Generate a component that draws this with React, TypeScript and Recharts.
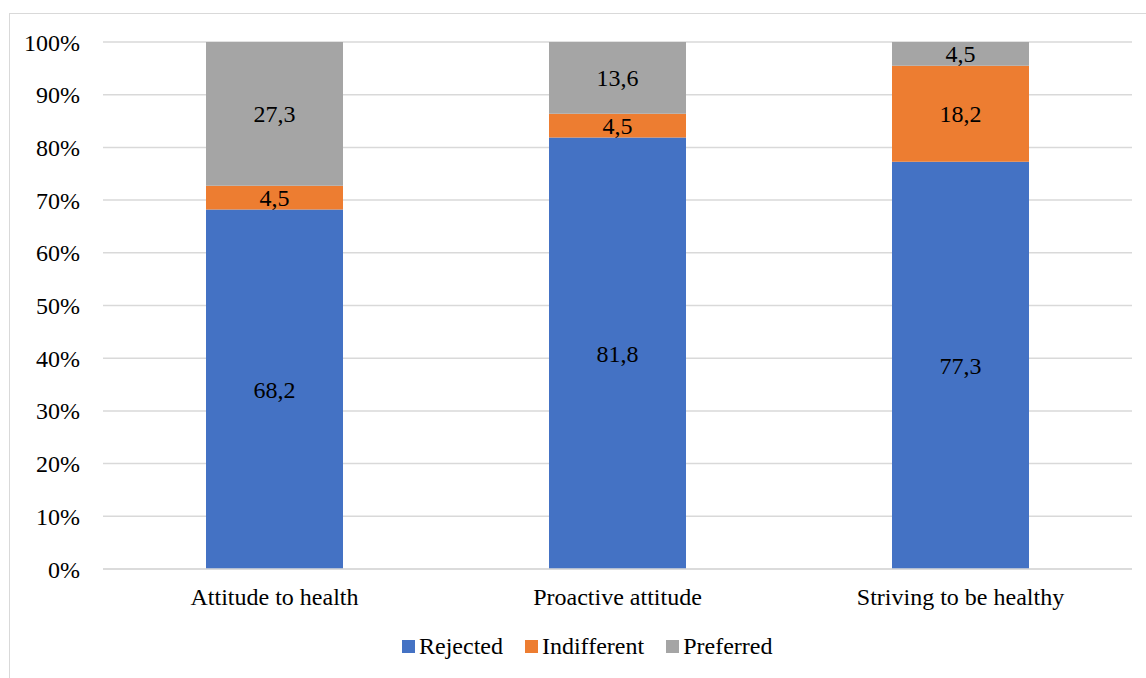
import { BarChart, Bar, XAxis, YAxis, CartesianGrid, LabelList } from "recharts";

const categories = ["Attitude to health", "Proactive attitude", "Striving to be healthy"];
const rejected = [68.2, 81.8, 77.3];
const indifferent = [4.5, 4.5, 18.2];
const preferred = [27.3, 13.6, 4.5];
const yTicks = [0, 0.1, 0.2, 0.3, 0.4, 0.5, 0.6, 0.7, 0.8, 0.9, 1];

const SERIES = [
  { key: "Rejected", color: "#4472C4" },
  { key: "Indifferent", color: "#ED7D31" },
  { key: "Preferred", color: "#A5A5A5" },
];

const FONT = "'Times New Roman', 'Liberation Serif', serif";
const FS = 24;

const chartData = categories.map((name, i) => ({
  name,
  Rejected: rejected[i],
  Indifferent: indifferent[i],
  Preferred: preferred[i],
}));

const fmt = (v: any) => String(v).replace(".", ",");

export default function App() {
  return (
    <div style={{ position: "fixed", left: 0, top: 0, width: 1146, height: 678, overflow: "hidden", background: "#fff", fontFamily: FONT }}>
      <div style={{ position: "absolute", left: 9, top: 13, width: 1200, height: 700, border: "1px solid #d9d9d9" }} />
      <BarChart
        width={1146}
        height={678}
        data={chartData}
        stackOffset="expand"
        margin={{ top: 42, right: 14, bottom: 0, left: 0 }}
        style={{ position: "absolute", left: 0, top: 0, fontFamily: FONT }}
      >
        <CartesianGrid vertical={false} stroke="#d9d9d9" strokeWidth={1.5} />
        <XAxis
          dataKey="name"
          height={109}
          axisLine={{ stroke: "#d9d9d9", strokeWidth: 1.5 }}
          tickLine={false}
          tickSize={0}
          tickMargin={19}
          tick={{ fill: "#000", fontSize: FS, fontFamily: FONT }}
        />
        <YAxis
          width={103}
          ticks={yTicks}
          domain={[0, 1]}
          axisLine={false}
          tickLine={false}
          tickSize={0}
          tickMargin={23}
          tickFormatter={(v) => `${Math.round(v * 100)}%`}
          tick={{ fill: "#000", fontSize: FS, fontFamily: FONT }}
        />
        {SERIES.map((s) => (
          <Bar key={s.key} dataKey={s.key} stackId="a" fill={s.color} barSize={137} isAnimationActive={false}>
            <LabelList
              dataKey={s.key}
              position="center"
              formatter={fmt}
              fill="#000"
              fontSize={FS}
              fontFamily={FONT}
            />
          </Bar>
        ))}
      </BarChart>
      {/* legend as plain html so it doesn't eat plot height */}
      <div style={{ position: "absolute", left: 402, top: 633, display: "flex", alignItems: "center", fontFamily: FONT, fontSize: FS, color: "#000", whiteSpace: "nowrap" }}>
        {SERIES.map((s) => (
          <div key={s.key} style={{ display: "flex", alignItems: "center", marginRight: 22 }}>
            <span style={{ display: "inline-block", width: 13, height: 13, background: s.color, marginRight: 4 }} />
            <span>{s.key}</span>
          </div>
        ))}
      </div>
    </div>
  );
}
